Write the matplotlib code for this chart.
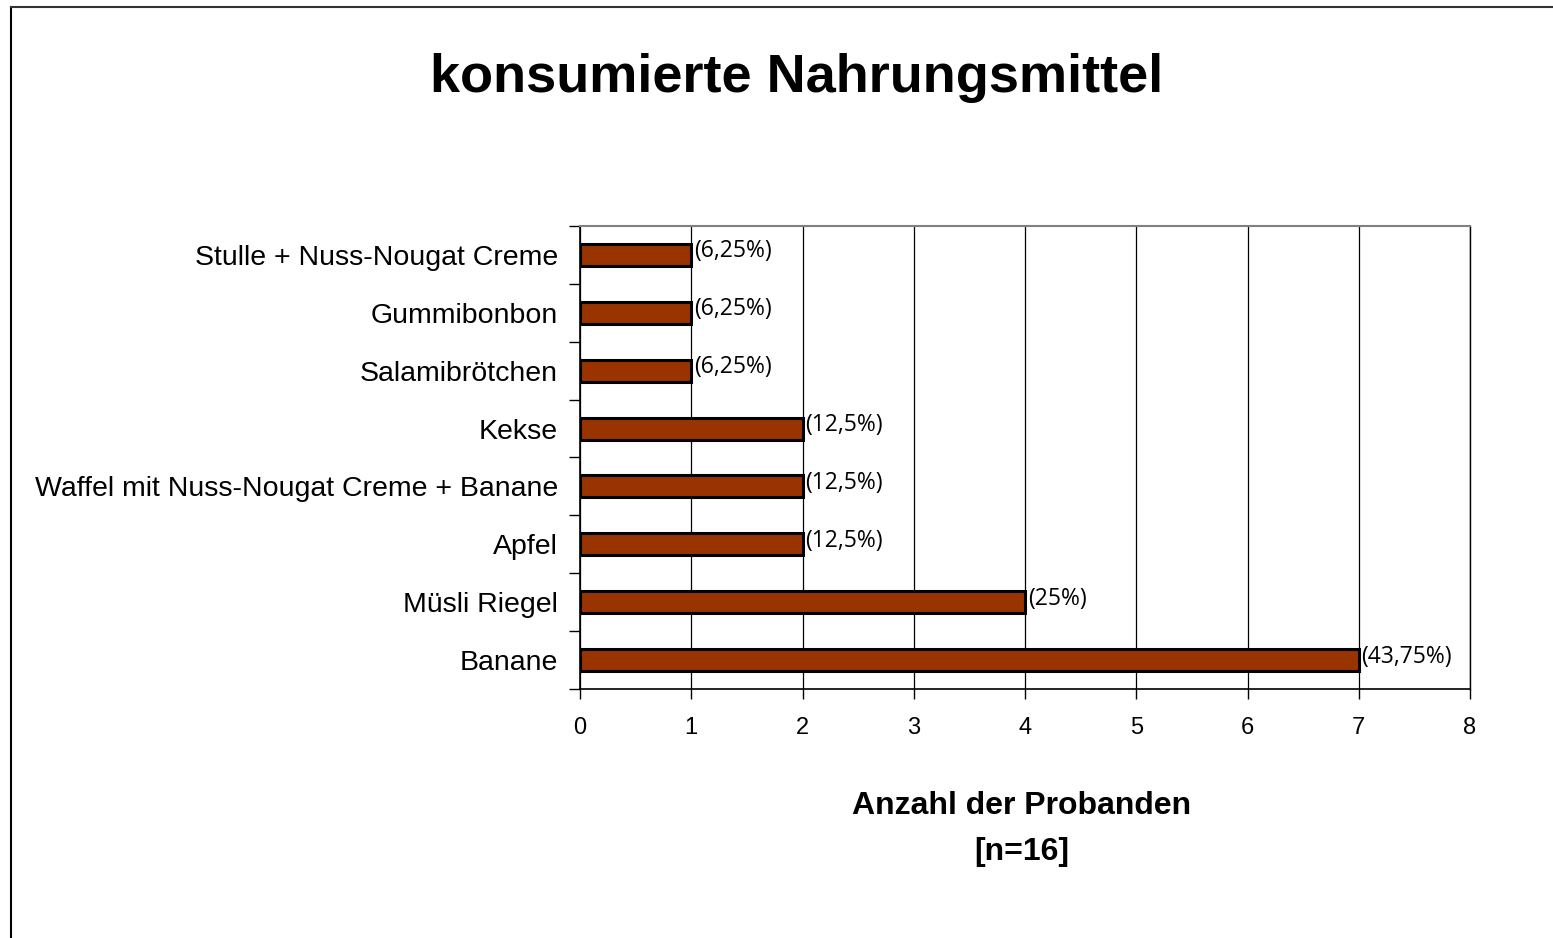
import matplotlib
matplotlib.use("Agg")
import matplotlib.pyplot as plt
from matplotlib.lines import Line2D

categories = ["Banane", "Müsli Riegel", "Apfel", "Waffel mit Nuss-Nougat Creme + Banane",
              "Kekse", "Salamibrötchen", "Gummibonbon", "Stulle + Nuss-Nougat Creme"]
values = [7, 4, 2, 2, 2, 1, 1, 1]
pct_labels = ["(43,75%)", "(25%)", "(12,5%)", "(12,5%)", "(12,5%)", "(6,25%)", "(6,25%)", "(6,25%)"]
x_ticks = [0, 1, 2, 3, 4, 5, 6, 7, 8]

W, H = 1553, 938
fig = plt.figure(figsize=(W / 100, H / 100), dpi=100)
fig.patch.set_facecolor("white")

ax = fig.add_axes([580 / W, (H - 689) / H, 890 / W, 463 / H])
ypos = list(range(len(categories)))
ax.barh(ypos, values, height=0.38, color="#993300", edgecolor="black", linewidth=2.2, zorder=3)
ax.set_xlim(0, 8)
ax.set_ylim(-0.5, len(categories) - 0.5)
ax.set_xticks(x_ticks)
ax.set_xticklabels([str(t) for t in x_ticks], fontsize=17, family="Liberation Sans")
ax.set_yticks(ypos)
ax.set_yticklabels(categories, fontsize=20.5, family="Liberation Sans")
ax.tick_params(axis="y", length=0, pad=16)
ax.tick_params(axis="x", length=7, width=1, direction="out", pad=13)
ax.set_yticks([i - 0.5 for i in range(len(categories) + 1)], minor=True)
ax.tick_params(axis="y", which="minor", length=8, width=1, direction="out")
ax.xaxis.grid(True, color="black", linewidth=0.9, zorder=0)
ax.set_axisbelow(True)
for s in ["left", "bottom"]:
    ax.spines[s].set_linewidth(1.2)
    ax.spines[s].set_color("black")
ax.spines["top"].set_color("#808080")
ax.spines["top"].set_linewidth(1.5)
ax.spines["right"].set_color("black")
ax.spines["right"].set_linewidth(1.0)

for y, v, lab in zip(ypos, values, pct_labels):
    ax.annotate(lab, (v, y), xytext=(2, 2.5), textcoords="offset points",
                ha="left", va="center", fontsize=16.5, family="Open Sans", zorder=4)

ax.set_xlabel("Anzahl der Probanden\n[n=16]", fontsize=23, fontweight="bold",
              family="Liberation Sans", linespacing=1.7)
ax.xaxis.set_label_coords(0.496, -0.22)

fig.text(797 / W, 1 - 78 / H, "konsumierte Nahrungsmittel", ha="center", va="center",
         fontsize=39, fontweight="bold", family="Liberation Sans")

# outer frame (left and top edges)
fig.add_artist(Line2D([11 / W, 11 / W], [0, 1 - 7 / H], color="black", linewidth=1.5,
                      transform=fig.transFigure))
fig.add_artist(Line2D([11 / W, 1], [1 - 7 / H, 1 - 7 / H], color="#333333", linewidth=1.5,
                      transform=fig.transFigure))

fig.savefig("out.png", dpi=100, facecolor="white")
